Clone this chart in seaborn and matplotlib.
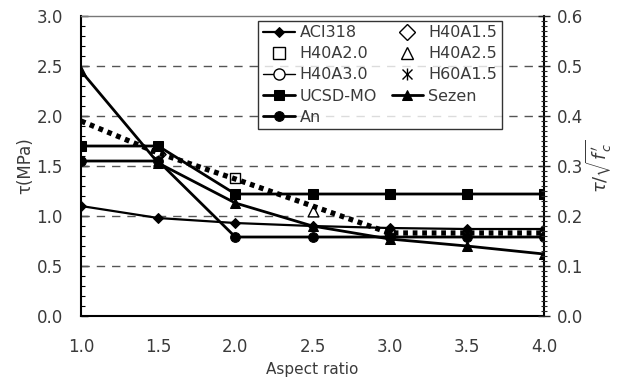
import numpy as np
import pandas as pd
import seaborn as sns
import matplotlib
matplotlib.use("Agg")
import matplotlib.pyplot as plt
from matplotlib.ticker import MultipleLocator, FormatStrFormatter
from matplotlib.lines import Line2D
from matplotlib.legend_handler import HandlerTuple

# Aspect ratios and shear strength (MPa) of each model
aspect = [1.0, 1.5, 2.0, 2.5, 3.0, 3.5, 4.0]
aci318 = [1.10, 0.98, 0.93, 0.90, 0.88, 0.87, 0.87]
ucsd_mo = [1.70, 1.70, 1.22, 1.22, 1.22, 1.22, 1.22]
sezen = [2.45, 1.53, 1.13, 0.90, 0.77, 0.70, 0.62]
an = [1.55, 1.55, 0.79, 0.79, 0.79, 0.79, 0.79]
proposed = [1.95, 1.63, 1.37, 1.10, 0.83, 0.83, 0.83]

# Test specimens (aspect ratio, measured strength)
specimens = ["H40A1.5", "H40A2.0", "H40A2.5", "H40A3.0", "H60A1.5"]
spec_aspect = [1.5, 2.0, 2.5, 3.0, 1.5]
spec_tau = [1.62, 1.38, 1.05, 0.83, 1.55]

sns.set_style("white")
plt.rcParams["font.family"] = ["DejaVu Sans"]
plt.rcParams["font.size"] = 11
TXT = "#3a3a3a"

fig = plt.figure(figsize=(6.17, 3.83), dpi=100)
ax = fig.add_axes([0.1313, 0.1749, 0.7504, 0.7833])

handles = {}

def model_line(y, marker, ms, lw, label):
    sns.lineplot(x=aspect, y=y, ax=ax, color="black", lw=lw, marker=marker,
                 markersize=ms, markeredgecolor="black", label=label,
                 legend=False, zorder=4)
    handles[label] = ax.lines[-1]

model_line(aci318, "D", 5.5, 1.6, "ACI318")
model_line(ucsd_mo, "s", 7, 2.0, "UCSD-MO")
model_line(sezen, "^", 7, 2.0, "Sezen")
model_line(an, "o", 7, 2.0, "An")

sns.lineplot(x=aspect, y=proposed, ax=ax, color="black", lw=3.8,
             linestyle=(0, (0.9, 0.9)), legend=False, zorder=5)

spec_markers = {"H40A1.5": "D", "H40A2.0": "s", "H40A2.5": "^",
                "H40A3.0": "o", "H60A1.5": "x"}
for name, xa, ya in zip(specimens, spec_aspect, spec_tau):
    m = spec_markers[name]
    if m == "x":
        ax.plot([xa], [ya], linestyle="none", marker="x", markersize=7,
                color="black", markeredgewidth=1.0, zorder=3)
        ax.plot([xa], [ya], linestyle="none", marker="|", markersize=8,
                color="black", markeredgewidth=1.0, zorder=3)
    else:
        sns.scatterplot(x=[xa], y=[ya], ax=ax, marker=m, s=60,
                        facecolor="white", edgecolor="black", linewidth=1.0,
                        zorder=3, legend=False)
        h, = ax.plot([], [], linestyle="none", marker=m, markersize=8,
                     markerfacecolor="white", markeredgecolor="black",
                     markeredgewidth=1.0)
        handles[name] = h

handles["H60A1.5"] = (
    Line2D([], [], linestyle="none", marker="x", markersize=7,
           color="black", markeredgewidth=1.0),
    Line2D([], [], linestyle="none", marker="|", markersize=8,
           color="black", markeredgewidth=1.0))
handles["H40A3.0"] = (
    Line2D([], [], color="black", lw=1.0),
    Line2D([], [], linestyle="none", marker="o", markersize=8,
           markerfacecolor="white", markeredgecolor="black",
           markeredgewidth=1.0))

ax.set_xlim(1.0, 4.0)
ax.set_ylim(0.0, 3.0)
ax.xaxis.set_major_locator(MultipleLocator(0.5))
ax.xaxis.set_minor_locator(MultipleLocator(0.1))
ax.yaxis.set_major_locator(MultipleLocator(0.5))
ax.yaxis.set_minor_locator(MultipleLocator(0.1))
ax.xaxis.set_major_formatter(FormatStrFormatter("%.1f"))
ax.yaxis.set_major_formatter(FormatStrFormatter("%.1f"))
ax.tick_params(axis="both", which="both", direction="in", colors="black",
               labelcolor=TXT, labelsize=12)
ax.tick_params(axis="both", which="major", length=5, width=1.0)
ax.tick_params(axis="x", which="major", pad=16)
ax.tick_params(axis="y", which="major", pad=13)
ax.tick_params(axis="both", which="minor", length=3, width=0.8)
ax.tick_params(axis="y", which="both", right=False)
ax.tick_params(axis="x", which="both", top=False)

for y in [0.5, 1.0, 1.5, 2.0, 2.5]:
    ax.axhline(y, color="#555555", lw=1.0, linestyle=(0, (6, 5)), zorder=1)

for side in ["left", "bottom", "right"]:
    ax.spines[side].set_color("black")
    ax.spines[side].set_linewidth(1.5)
ax.spines["top"].set_color("#777777")
ax.spines["top"].set_linewidth(1.0)

ax.set_xlabel("Aspect ratio", color=TXT, fontsize=11, labelpad=4)
ax.set_ylabel("τ(MPa)", color=TXT, fontsize=12, labelpad=2)

# Normalised strength on the secondary axis
ax2 = ax.twinx()
ax2.set_ylim(0.0, 0.6)
ax2.yaxis.set_major_locator(MultipleLocator(0.1))
ax2.yaxis.set_minor_locator(MultipleLocator(0.01))
ax2.yaxis.set_major_formatter(FormatStrFormatter("%.1f"))
ax2.tick_params(axis="y", which="both", direction="inout", labelcolor=TXT,
                labelsize=12)
ax2.tick_params(axis="y", which="major", length=8, width=1.0, pad=5)
ax2.tick_params(axis="y", which="minor", length=5, width=0.8)
for s in ax2.spines.values():
    s.set_visible(False)
ax2.set_ylabel(r"$\tau/\sqrt{f^{\,\prime}_{\,c}}$", color=TXT,
               fontsize=13, labelpad=1)
ax2.grid(False)

order = ["ACI318", "H40A2.0", "H40A3.0", "UCSD-MO", "An",
         "H40A1.5", "H40A2.5", "H60A1.5", "Sezen"]
leg = ax2.legend([handles[k] for k in order], order, ncol=2,
                 loc="upper left", bbox_to_anchor=(0.3828, 0.985),
                 frameon=True, fancybox=False, fontsize=11.5,
                 handlelength=2.0, handletextpad=0.3, columnspacing=0.9,
                 labelspacing=0.38, borderpad=0.3, borderaxespad=0.0,
                 handler_map={tuple: HandlerTuple(ndivide=1)})
leg.get_frame().set_edgecolor("black")
leg.get_frame().set_linewidth(1.0)
for t in leg.get_texts():
    t.set_color(TXT)

fig.savefig("out.png", dpi=100)
